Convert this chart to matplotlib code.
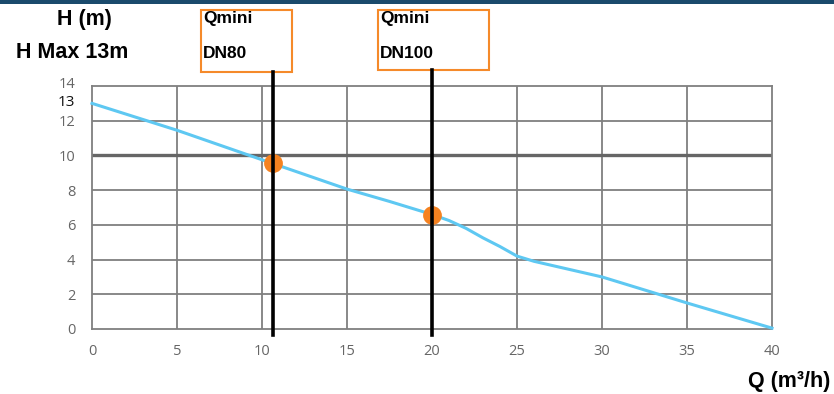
import matplotlib
matplotlib.use("Agg")
import matplotlib.pyplot as plt
from matplotlib.patches import Rectangle
from matplotlib.transforms import ScaledTranslation

# Data
q_values = [0, 5, 10, 15, 17.5, 20, 21, 22, 23, 24, 25, 26, 30, 35, 40]
h_values = [13.0, 11.45, 9.75, 8.06, 7.35, 6.6, 6.25, 5.8, 5.25, 4.75, 4.2, 3.9, 3.0, 1.5, 0.05]
op_q = [10.65, 20.0]
op_h = [9.55, 6.55]
op_line1 = ["Qmini", "Qmini"]
op_line2 = ["DN80", "DN100"]
x_ticks = [0, 5, 10, 15, 20, 25, 30, 35, 40]
y_ticks = [0, 2, 4, 6, 8, 10, 12, 13, 14]

W, H = 834, 394
fig = plt.figure(figsize=(W / 100, H / 100), dpi=100)
plt.rcParams['font.family'] = ['Open Sans', 'DejaVu Sans']

ax_l, ax_r, ax_t, ax_b = 92, 772, 86, 329
ax = fig.add_axes([ax_l / W, 1 - ax_b / H, (ax_r - ax_l) / W, (ax_b - ax_t) / H])
ax.set_xlim(0, 40)
ax.set_ylim(0, 14)

grid_c = '#7f7f7f'
for x in x_ticks[1:-1]:
    ax.axvline(x, color=grid_c, lw=1.3, zorder=1)
for y in [2, 4, 6, 8, 12]:
    ax.axhline(y, color=grid_c, lw=1.3, zorder=1)
ax.axhline(10, color='#666666', lw=2.4, zorder=1)
for s in ax.spines.values():
    s.set_color(grid_c)
    s.set_linewidth(1.3)

ax.set_xticks(x_ticks)
ax.set_yticks(y_ticks)
ax.tick_params(length=0, colors='#666666', labelsize=10.5)
ax.tick_params(axis='x', pad=11)
ax.tick_params(axis='y', pad=12)
ax.set_yticklabels([str(v) for v in y_ticks])
for lbl, v in zip(ax.get_yticklabels(), y_ticks):
    if v == 13:
        lbl.set_color('#111111')
        lbl.set_fontsize(11)
        lbl.set_transform(lbl.get_transform() + ScaledTranslation(0, 3 / 100, fig.dpi_scale_trans))
    if v == 14:
        lbl.set_transform(lbl.get_transform() + ScaledTranslation(0, 3 / 100, fig.dpi_scale_trans))

ax.plot(q_values, h_values, color='#5ec8f2', lw=2.2, zorder=3, clip_on=False)

# Operating lines and boxes
box_px = [(201, 292, 10, 72), (378, 489, 10, 70)]
for q, h, l1, l2, (bx0, bx1, by0, by1) in zip(op_q, op_h, op_line1, op_line2, box_px):
    xp = ax_l + q / 40 * (ax_r - ax_l)
    fig.add_artist(plt.Line2D([xp / W, xp / W], [1 - by1 / H, 1 - 335 / H],
                              color='black', lw=2.6, zorder=4))
    fig.add_artist(Rectangle((bx0 / W, 1 - by1 / H), (bx1 - bx0) / W, (by1 - by0) / H,
                             transform=fig.transFigure, fill=False,
                             edgecolor='#f58a2a', lw=1.5))
    fig.text((bx0 + 2) / W, 1 - 19 / H, l1, ha='left', va='center',
             fontsize=12.5, fontweight='bold', family='Liberation Sans', color='black')
    fig.text((bx0 + 2) / W, 1 - 53 / H, l2, ha='left', va='center',
             fontsize=12.5, fontweight='bold', family='Liberation Sans', color='black')
    ax.plot([q], [h], 'o', color='#f58220', ms=12.5, zorder=5, clip_on=False)

# Top bar
fig.add_artist(Rectangle((0, 1 - 4 / H), 1, 4 / H, transform=fig.transFigure,
                         color='#1a4a6c', lw=0))

fig.text(84 / W, 1 - 20 / H, "H (m)", ha='center', va='center',
         fontsize=15.5, fontweight='bold', family='Liberation Sans')
fig.text(72 / W, 1 - 53 / H, "H Max 13m", ha='center', va='center',
         fontsize=15.5, fontweight='bold', family='Liberation Sans')
fig.text(830 / W, 1 - 381 / H, "Q (m³/h)", ha='right', va='center',
         fontsize=15.5, fontweight='bold', family='Liberation Sans')

fig.savefig("out.png", dpi=100)
